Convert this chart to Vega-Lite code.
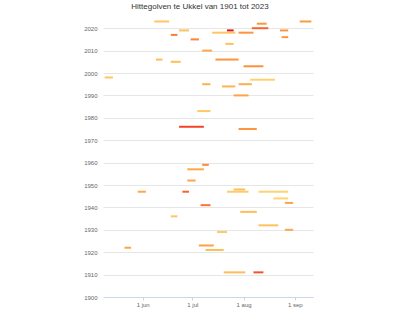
{
  "$schema": "https://vega.github.io/schema/vega-lite/v6.json",
  "width": 210,
  "height": 280,
  "autosize": {"type": "none"},
  "padding": {"left": 103, "top": 17, "right": 87, "bottom": 15},
  "background": "#ffffff",
  "title": {
    "text": "Hittegolven te Ukkel van 1901 tot 2023",
    "font": "Liberation Sans",
    "fontSize": 8,
    "fontWeight": "normal",
    "color": "#333333",
    "anchor": "middle",
    "frame": "group",
    "offset": 6,
    "dx": -8
  },
  "config": {"view": {"stroke": null}},
  "data": {
    "values": [
      {"year": 2023, "start": "2001-06-08", "end": "2001-06-17", "t": 0.16},
      {"year": 2023, "start": "2001-09-04", "end": "2001-09-11", "t": 0.36},
      {"year": 2022, "start": "2001-08-09", "end": "2001-08-15", "t": 0.38},
      {"year": 2020, "start": "2001-08-06", "end": "2001-08-16", "t": 0.55},
      {"year": 2019, "start": "2001-07-22", "end": "2001-07-26", "t": 0.84},
      {"year": 2019, "start": "2001-06-23", "end": "2001-06-29", "t": 0.18},
      {"year": 2019, "start": "2001-08-23", "end": "2001-08-28", "t": 0.38},
      {"year": 2018, "start": "2001-07-13", "end": "2001-07-27", "t": 0.16},
      {"year": 2018, "start": "2001-07-29", "end": "2001-08-07", "t": 0.38},
      {"year": 2017, "start": "2001-06-18", "end": "2001-06-22", "t": 0.47},
      {"year": 2016, "start": "2001-08-24", "end": "2001-08-28", "t": 0.38},
      {"year": 2015, "start": "2001-06-30", "end": "2001-07-05", "t": 0.45},
      {"year": 2013, "start": "2001-07-21", "end": "2001-07-26", "t": 0.18},
      {"year": 2010, "start": "2001-07-07", "end": "2001-07-13", "t": 0.3},
      {"year": 2006, "start": "2001-06-09", "end": "2001-06-13", "t": 0.2},
      {"year": 2006, "start": "2001-07-15", "end": "2001-07-29", "t": 0.38},
      {"year": 2005, "start": "2001-06-18", "end": "2001-06-24", "t": 0.2},
      {"year": 2003, "start": "2001-08-01", "end": "2001-08-13", "t": 0.4},
      {"year": 1998, "start": "2001-05-09", "end": "2001-05-14", "t": 0.16},
      {"year": 1997, "start": "2001-08-05", "end": "2001-08-20", "t": 0.1},
      {"year": 1995, "start": "2001-07-07", "end": "2001-07-12", "t": 0.25},
      {"year": 1995, "start": "2001-07-29", "end": "2001-08-06", "t": 0.27},
      {"year": 1994, "start": "2001-07-19", "end": "2001-07-27", "t": 0.25},
      {"year": 1990, "start": "2001-07-26", "end": "2001-08-04", "t": 0.32},
      {"year": 1983, "start": "2001-07-04", "end": "2001-07-12", "t": 0.14},
      {"year": 1976, "start": "2001-06-23", "end": "2001-07-08", "t": 0.65},
      {"year": 1975, "start": "2001-07-29", "end": "2001-08-09", "t": 0.38},
      {"year": 1959, "start": "2001-07-07", "end": "2001-07-11", "t": 0.42},
      {"year": 1957, "start": "2001-06-28", "end": "2001-07-08", "t": 0.3},
      {"year": 1952, "start": "2001-06-28", "end": "2001-07-03", "t": 0.32},
      {"year": 1948, "start": "2001-07-26", "end": "2001-08-02", "t": 0.2},
      {"year": 1947, "start": "2001-05-29", "end": "2001-06-03", "t": 0.3},
      {"year": 1947, "start": "2001-06-25", "end": "2001-06-29", "t": 0.55},
      {"year": 1947, "start": "2001-07-22", "end": "2001-08-04", "t": 0.13},
      {"year": 1947, "start": "2001-08-10", "end": "2001-08-28", "t": 0.09},
      {"year": 1944, "start": "2001-08-19", "end": "2001-08-28", "t": 0.08},
      {"year": 1942, "start": "2001-08-26", "end": "2001-08-31", "t": 0.32},
      {"year": 1941, "start": "2001-07-06", "end": "2001-07-12", "t": 0.5},
      {"year": 1938, "start": "2001-07-30", "end": "2001-08-09", "t": 0.2},
      {"year": 1936, "start": "2001-06-18", "end": "2001-06-22", "t": 0.15},
      {"year": 1932, "start": "2001-08-10", "end": "2001-08-22", "t": 0.18},
      {"year": 1930, "start": "2001-08-26", "end": "2001-08-31", "t": 0.3},
      {"year": 1929, "start": "2001-07-16", "end": "2001-07-22", "t": 0.14},
      {"year": 1923, "start": "2001-07-05", "end": "2001-07-14", "t": 0.33},
      {"year": 1922, "start": "2001-05-21", "end": "2001-05-25", "t": 0.32},
      {"year": 1921, "start": "2001-07-09", "end": "2001-07-20", "t": 0.2},
      {"year": 1911, "start": "2001-07-20", "end": "2001-08-02", "t": 0.2},
      {"year": 1911, "start": "2001-08-07", "end": "2001-08-13", "t": 0.6}
    ]
  },
  "mark": {"type": "rule", "strokeWidth": 2, "strokeCap": "butt"},
  "encoding": {
    "x": {
      "field": "start",
      "type": "temporal",
      "scale": {
        "type": "utc",
        "domain": [
          {"year": 2001, "month": 5, "date": 8, "utc": true},
          {"year": 2001, "month": 9, "date": 12, "utc": true}
        ],
        "nice": false
      },
      "axis": {
        "title": null,
        "grid": false,
        "values": [
          {"year": 2001, "month": 6, "date": 1, "utc": true},
          {"year": 2001, "month": 7, "date": 1, "utc": true},
          {"year": 2001, "month": 8, "date": 1, "utc": true},
          {"year": 2001, "month": 9, "date": 1, "utc": true}
        ],
        "labelExpr": "utcdate(datum.value) + ' ' + ['jan','feb','mrt','apr','mei','jun','jul','aug','sep','okt','nov','dec'][utcmonth(datum.value)]",
        "domainColor": "#ccd6eb",
        "tickColor": "#ccd6eb",
        "tickSize": 3,
        "labelFont": "Liberation Sans",
        "labelFontSize": 6,
        "labelColor": "#666666",
        "labelPadding": 1
      }
    },
    "x2": {"field": "end"},
    "y": {
      "field": "year",
      "type": "quantitative",
      "scale": {"domain": [1900, 2025], "nice": false, "zero": false},
      "axis": {
        "title": null,
        "values": [1900, 1910, 1920, 1930, 1940, 1950, 1960, 1970, 1980, 1990, 2000, 2010, 2020],
        "format": "d",
        "grid": true,
        "gridColor": "#e6e6e6",
        "domain": false,
        "ticks": false,
        "labelFont": "Liberation Sans",
        "labelFontSize": 6,
        "labelColor": "#666666",
        "labelPadding": 6
      }
    },
    "color": {
      "field": "t",
      "type": "quantitative",
      "scale": {"scheme": "yelloworangered", "domain": [0, 1]},
      "legend": null
    }
  }
}
